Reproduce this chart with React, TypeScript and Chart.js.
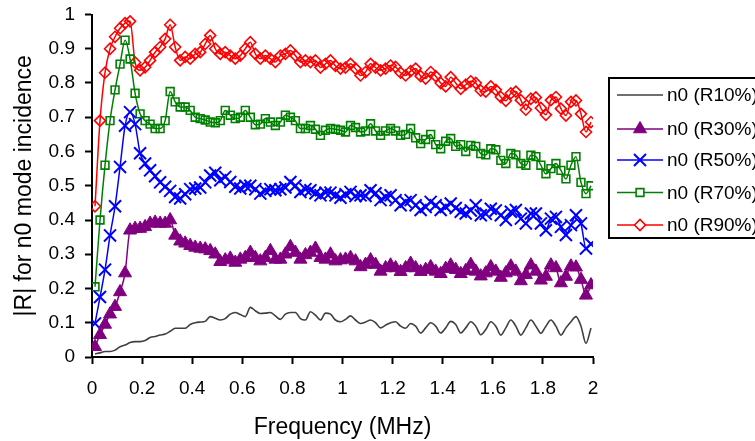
import React, { useEffect, useRef } from 'react';
import { Chart, registerables } from 'chart.js';

Chart.register(...registerables);

// Frequency grid (MHz)
const freq = [
  0.012, 0.032, 0.052, 0.072, 0.092, 0.112, 0.132, 0.152, 0.172, 0.192,
  0.212, 0.232, 0.252, 0.272, 0.292, 0.312, 0.332, 0.352, 0.372, 0.392,
  0.412, 0.432, 0.452, 0.472, 0.492, 0.512, 0.532, 0.552, 0.572, 0.592,
  0.612, 0.632, 0.652, 0.672, 0.692, 0.712, 0.732, 0.752, 0.772, 0.792,
  0.812, 0.832, 0.852, 0.872, 0.892, 0.912, 0.932, 0.952, 0.972, 0.992,
  1.012, 1.032, 1.052, 1.072, 1.092, 1.112, 1.132, 1.152, 1.172, 1.192,
  1.212, 1.232, 1.252, 1.272, 1.292, 1.312, 1.332, 1.352, 1.372, 1.392,
  1.412, 1.432, 1.452, 1.472, 1.492, 1.512, 1.532, 1.552, 1.572, 1.592,
  1.612, 1.632, 1.652, 1.672, 1.692, 1.712, 1.732, 1.752, 1.772, 1.792,
  1.812, 1.832, 1.852, 1.872, 1.892, 1.912, 1.932, 1.952, 1.972, 1.992,
];

const r10 = [
  0.009, 0.012, 0.016, 0.016, 0.02, 0.03, 0.035, 0.042, 0.045, 0.045,
  0.048, 0.057, 0.06, 0.064, 0.067, 0.075, 0.084, 0.084, 0.084, 0.095,
  0.1, 0.102, 0.104, 0.118, 0.113, 0.108, 0.112, 0.125, 0.13, 0.124,
  0.118, 0.145, 0.135, 0.127, 0.128, 0.13, 0.12, 0.11, 0.125, 0.13,
  0.13, 0.112, 0.108, 0.132, 0.122, 0.108, 0.128, 0.125, 0.108, 0.103,
  0.11, 0.12, 0.108, 0.098, 0.102, 0.108, 0.1, 0.085, 0.093, 0.1,
  0.103, 0.09, 0.084, 0.098, 0.09, 0.07, 0.085, 0.1, 0.09, 0.07,
  0.085, 0.104, 0.095, 0.07, 0.085, 0.103, 0.09, 0.065, 0.08, 0.103,
  0.09, 0.064, 0.085, 0.108, 0.09, 0.064, 0.085, 0.108, 0.09, 0.069,
  0.09, 0.108, 0.09, 0.064, 0.085, 0.103, 0.118, 0.09, 0.04, 0.085,
];

const r30 = [
  0.03, 0.065, 0.095, 0.125, 0.147, 0.19, 0.245, 0.37, 0.375, 0.375,
  0.38, 0.39, 0.393, 0.39, 0.39, 0.4, 0.355, 0.338, 0.332, 0.325,
  0.32, 0.317, 0.315, 0.31, 0.3, 0.278, 0.283, 0.288, 0.276, 0.285,
  0.29, 0.305, 0.29, 0.28, 0.29, 0.31, 0.285, 0.285, 0.3, 0.322,
  0.305, 0.285, 0.298, 0.305, 0.317, 0.29, 0.285, 0.3, 0.28, 0.283,
  0.285, 0.29, 0.28, 0.263, 0.27, 0.283, 0.27, 0.25, 0.26, 0.268,
  0.26, 0.249, 0.26, 0.273, 0.26, 0.249, 0.255, 0.263, 0.25, 0.243,
  0.258, 0.268, 0.255, 0.243, 0.252, 0.27, 0.25, 0.236, 0.245, 0.263,
  0.25, 0.232, 0.245, 0.265, 0.25, 0.222, 0.24, 0.268, 0.25, 0.224,
  0.235, 0.268, 0.26, 0.216, 0.235, 0.265, 0.262, 0.226, 0.18, 0.21,
];

const r50 = [
  0.098, 0.175, 0.255, 0.355, 0.44, 0.555, 0.675, 0.715, 0.68, 0.595,
  0.565, 0.545, 0.528, 0.51, 0.497, 0.485, 0.467, 0.463, 0.475, 0.49,
  0.492, 0.495, 0.51, 0.53, 0.538, 0.516, 0.526, 0.511, 0.497, 0.492,
  0.5, 0.5, 0.49, 0.477, 0.485, 0.49, 0.487, 0.49, 0.495, 0.511,
  0.5, 0.482, 0.49, 0.487, 0.478, 0.472, 0.48, 0.48, 0.472, 0.465,
  0.475, 0.482, 0.47, 0.472, 0.47, 0.487, 0.478, 0.458, 0.467, 0.472,
  0.458, 0.443, 0.453, 0.458, 0.443, 0.429, 0.438, 0.453, 0.443, 0.429,
  0.438, 0.448, 0.435, 0.424, 0.419, 0.428, 0.443, 0.414, 0.418, 0.433,
  0.428, 0.414, 0.4, 0.424, 0.429, 0.404, 0.39, 0.419, 0.419, 0.39,
  0.37, 0.404, 0.409, 0.38, 0.356, 0.385, 0.414, 0.39, 0.317, 0.33,
];

const r70 = [
  0.205, 0.4, 0.56, 0.69, 0.78, 0.855, 0.925, 0.87, 0.77, 0.71,
  0.69, 0.68, 0.667, 0.667, 0.69, 0.775, 0.745, 0.73, 0.73, 0.72,
  0.7, 0.696, 0.692, 0.686, 0.684, 0.69, 0.72, 0.706, 0.696, 0.7,
  0.72, 0.7, 0.678, 0.68, 0.696, 0.686, 0.676, 0.686, 0.706, 0.7,
  0.69, 0.667, 0.667, 0.676, 0.665, 0.647, 0.662, 0.667, 0.665, 0.662,
  0.657, 0.676, 0.67, 0.657, 0.66, 0.681, 0.66, 0.647, 0.66, 0.667,
  0.66, 0.647, 0.65, 0.667, 0.64, 0.623, 0.635, 0.65, 0.62, 0.608,
  0.63, 0.638, 0.615, 0.62, 0.6, 0.618, 0.615, 0.594, 0.59, 0.608,
  0.605, 0.574, 0.565, 0.594, 0.59, 0.565, 0.56, 0.589, 0.585, 0.56,
  0.535, 0.55, 0.565, 0.545, 0.52, 0.56, 0.585, 0.51, 0.477, 0.5,
];

const r90 = [
  0.44, 0.69, 0.83, 0.9, 0.935, 0.96, 0.975, 0.98, 0.86, 0.837,
  0.846, 0.866, 0.89, 0.905, 0.929, 0.97, 0.905, 0.866, 0.876, 0.871,
  0.885, 0.89, 0.914, 0.939, 0.9, 0.885, 0.89, 0.88, 0.871, 0.88,
  0.9, 0.919, 0.885, 0.871, 0.88, 0.871, 0.861, 0.88, 0.885, 0.895,
  0.88, 0.861, 0.866, 0.861, 0.866, 0.845, 0.856, 0.866, 0.85, 0.842,
  0.845, 0.856, 0.842, 0.822, 0.832, 0.856, 0.845, 0.837, 0.842, 0.851,
  0.847, 0.83, 0.822, 0.835, 0.842, 0.82, 0.813, 0.832, 0.82, 0.8,
  0.79, 0.817, 0.8, 0.783, 0.795, 0.805, 0.8, 0.778, 0.775, 0.79,
  0.78, 0.759, 0.748, 0.77, 0.775, 0.75, 0.722, 0.754, 0.758, 0.727,
  0.707, 0.75, 0.759, 0.725, 0.705, 0.745, 0.749, 0.71, 0.657, 0.686,
];

const seriesLabels = ['n0 (R10%)', 'n0 (R30%)', 'n0 (R50%)', 'n0 (R70%)', 'n0 (R90%)'];
const xTitle = 'Frequency (MHz)';
const yTitle = '|R| for n0 mode incidence';

const FONT = '"Liberation Sans", Arial, sans-serif';

function drawMarker(c: CanvasRenderingContext2D, style: string, x: number, y: number, r: number, stroke: string, fill: string, bw: number) {
  c.save();
  c.strokeStyle = stroke;
  c.fillStyle = fill;
  c.lineWidth = bw;
  c.beginPath();
  if (style === 'rectRot') {
    c.moveTo(x - r, y); c.lineTo(x, y - r); c.lineTo(x + r, y); c.lineTo(x, y + r); c.closePath();
    c.fill(); c.stroke();
  } else if (style === 'rect') {
    const s = Math.SQRT1_2 * r;
    c.rect(x - s, y - s, 2 * s, 2 * s);
    c.fill(); c.stroke();
  } else if (style === 'triangle') {
    const a = (2 * Math.PI) / 3;
    c.moveTo(x, y - r);
    c.lineTo(x + Math.sin(a) * r, y - Math.cos(a) * r);
    c.lineTo(x + Math.sin(2 * a) * r, y - Math.cos(2 * a) * r);
    c.closePath();
    c.fill(); c.stroke();
  } else if (style === 'crossRot') {
    const o = Math.SQRT1_2 * r;
    c.moveTo(x - o, y - o); c.lineTo(x + o, y + o);
    c.moveTo(x - o, y + o); c.lineTo(x + o, y - o);
    c.stroke();
  }
  c.restore();
}

export default function App() {
  const ref = useRef<HTMLCanvasElement>(null);

  useEffect(() => {
    const canvas = ref.current;
    if (!canvas) return;
    const mk = (ys: number[]) => freq.map((x, i) => ({ x, y: ys[i] }));

    const legendPlugin = {
      id: 'boxLegend',
      afterDraw(chart: any) {
        const c: CanvasRenderingContext2D = chart.ctx;
        c.save();
        c.lineWidth = 2;
        c.strokeStyle = '#000';
        c.strokeRect(609, 78, 200, 160);
        const ys = [95, 129, 160, 192.5, 225];
        chart.data.datasets.forEach((ds: any, i: number) => {
          const y = ys[i];
          c.strokeStyle = ds.borderColor;
          c.lineWidth = ds.borderWidth;
          c.beginPath();
          c.moveTo(617, y);
          c.lineTo(663, y);
          c.stroke();
          if (ds.pointRadius > 0) {
            drawMarker(c, ds.pointStyle, 640, y, ds.pointRadius, ds.pointBorderColor, ds.legendFill, ds.pointBorderWidth);
          }
          c.fillStyle = '#000';
          c.font = `19px ${FONT}`;
          c.textAlign = 'left';
          c.textBaseline = 'middle';
          c.fillText(ds.label, 667, y + 1);
        });
        c.restore();
      },
    };

    const chart = new Chart(canvas, {
      type: 'line',
      data: {
        datasets: [
          {
            label: seriesLabels[0], data: mk(r10), borderColor: '#404040', borderWidth: 1.6,
            pointRadius: 0, cubicInterpolationMode: 'monotone',
          },
          {
            label: seriesLabels[1], data: mk(r30), borderColor: '#800080', borderWidth: 1.5,
            pointStyle: 'triangle', pointRadius: 7.5, pointBorderColor: '#800080', pointBackgroundColor: '#800080',
            pointBorderWidth: 1, legendFill: '#800080', cubicInterpolationMode: 'monotone',
          },
          {
            label: seriesLabels[2], data: mk(r50), borderColor: '#0000FF', borderWidth: 1.5,
            pointStyle: 'crossRot', pointRadius: 8.5, pointBorderColor: '#0000FF', pointBackgroundColor: '#0000FF',
            pointBorderWidth: 2, legendFill: '#0000FF', cubicInterpolationMode: 'monotone',
          },
          {
            label: seriesLabels[3], data: mk(r70), borderColor: '#008000', borderWidth: 1.5,
            pointStyle: 'rect', pointRadius: 5.5, pointBorderColor: '#008000', pointBackgroundColor: 'rgba(255,255,255,0)',
            pointBorderWidth: 1.6, legendFill: '#ffffff', cubicInterpolationMode: 'monotone',
          },
          {
            label: seriesLabels[4], data: mk(r90), borderColor: '#FF0000', borderWidth: 1.5,
            pointStyle: 'rectRot', pointRadius: 5.5, pointBorderColor: '#FF0000', pointBackgroundColor: 'rgba(255,255,255,0)',
            pointBorderWidth: 1.6, legendFill: '#ffffff', cubicInterpolationMode: 'monotone',
          },
        ] as any,
      },
      options: {
        animation: false,
        responsive: false,
        devicePixelRatio: 1,
        events: [],
        layout: { padding: { left: 0, top: 14.5, right: 162, bottom: 0 } },
        plugins: { legend: { display: false }, tooltip: { enabled: false } },
        scales: {
          x: {
            type: 'linear',
            min: 0,
            max: 2,
            afterFit: (s: any) => { s.height = 84; },
            border: { display: true, color: '#000', width: 2 },
            grid: { drawOnChartArea: false, drawTicks: true, tickLength: 7, tickColor: '#000', tickWidth: 2 },
            ticks: {
              stepSize: 0.2,
              color: '#000',
              padding: 13,
              maxRotation: 0,
              font: { family: FONT, size: 19 },
              callback: (v: any) => String(Math.round(Number(v) * 10) / 10),
            },
            title: { display: true, text: xTitle, color: '#000', font: { family: FONT, size: 23 }, padding: { top: 0, bottom: 0 } },
          },
          y: {
            type: 'linear',
            min: 0,
            max: 1,
            afterFit: (s: any) => { s.width = 92; s.paddingTop = 0; s.paddingBottom = 0; },
            border: { display: true, color: '#000', width: 2 },
            grid: { drawOnChartArea: false, drawTicks: true, tickLength: 7, tickColor: '#000', tickWidth: 2 },
            ticks: {
              stepSize: 0.1,
              color: '#000',
              padding: 10,
              font: { family: FONT, size: 19 },
              callback: (v: any) => String(Math.round(Number(v) * 10) / 10),
            },
            title: { display: true, text: yTitle, color: '#000', font: { family: FONT, size: 23 }, padding: { top: 11, bottom: 0 } },
          },
        },
      } as any,
      plugins: [legendPlugin],
    });

    return () => chart.destroy();
  }, []);

  return (
    <div style={{ position: 'absolute', left: 0, top: 0, width: 755, height: 441, background: '#fff', overflow: 'hidden' }}>
      <canvas ref={ref} width={755} height={441} style={{ display: 'block', width: 755, height: 441 }} />
    </div>
  );
}
